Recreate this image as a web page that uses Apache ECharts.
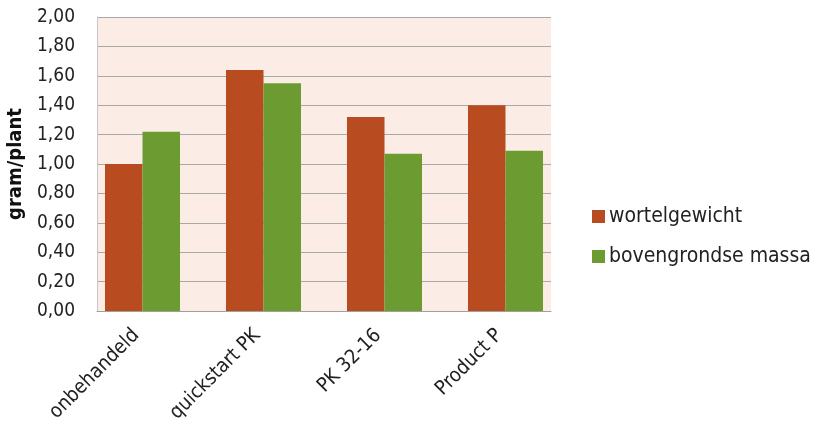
<!DOCTYPE html>
<html><head><meta charset="utf-8">
<script src="https://cdn.jsdelivr.net/npm/echarts@6/dist/echarts.min.js"></script>
<style>html,body{margin:0;padding:0;background:#fff}#c{width:822px;height:433px}</style>
</head><body><div id="c"></div>
<script>
const categories = ['onbehandeld', 'quickstart PK', 'PK 32-16', 'Product P'];
const wortelgewicht = [1.00, 1.64, 1.32, 1.40];
const bovengrondseMassa = [1.22, 1.55, 1.07, 1.09];
const seriesNames = ['wortelgewicht', 'bovengrondse massa'];
const FONT = '"DejaVu Sans Condensed", "DejaVu Sans", sans-serif';
const fmt = v => v.toFixed(2).replace('.', ',');
const chart = echarts.init(document.getElementById('c'));
chart.setOption({
  animation: false,
  textStyle: { fontFamily: FONT },
  grid: [
    { left: 82, right: 256, top: 17, bottom: 122, outerBoundsMode: 'none', containLabel: false },
    { left: 97, right: 271, top: 17, bottom: 122, outerBoundsMode: 'none', containLabel: false, show: true, backgroundColor: '#FBEDE5', borderWidth: 0 }
  ],
  legend: {
    orient: 'vertical', left: 592, top: 206, padding: 0, itemWidth: 13, itemHeight: 13, itemGap: 19,
    icon: 'rect',
    textStyle: { fontSize: 21, color: '#222', fontFamily: FONT, padding: [0, 0, 0, -1] },
    data: seriesNames
  },
  xAxis: [
    {
      type: 'category', data: categories, gridIndex: 0,
      axisLine: { show: false },
      axisTick: { show: false },
      axisLabel: { rotate: 45, fontSize: 20, color: '#222', interval: 0, margin: 15, padding: [0, 9, 0, 0] }
    },
    {
      type: 'category', data: categories, gridIndex: 1,
      axisLine: { lineStyle: { color: '#A0A0A0' } },
      axisTick: { show: false },
      axisLabel: { show: false }
    }
  ],
  yAxis: [
    { type: 'value', min: 0, max: 2, interval: 0.2, gridIndex: 0, show: false },
    {
      type: 'value', min: 0, max: 2, interval: 0.2, gridIndex: 1,
      name: 'gram/plant', nameLocation: 'middle', nameGap: 67,
      nameTextStyle: { fontSize: 20, fontWeight: 'bold', color: '#111' },
      axisLine: { show: true, lineStyle: { color: '#C8C8C8' } },
      axisTick: { show: false },
      splitLine: { lineStyle: { color: '#A8A8A8', width: 1 } },
      axisLabel: { fontSize: 19, color: '#222', margin: 22, formatter: fmt }
    }
  ],
  series: [
    { name: seriesNames[0], type: 'bar', xAxisIndex: 0, yAxisIndex: 0, data: wortelgewicht, barGap: '0%', barCategoryGap: '38%', itemStyle: { color: '#B84B1F' } },
    { name: seriesNames[1], type: 'bar', xAxisIndex: 0, yAxisIndex: 0, data: bovengrondseMassa, itemStyle: { color: '#6C9C31' } }
  ]
});
</script></body></html>
